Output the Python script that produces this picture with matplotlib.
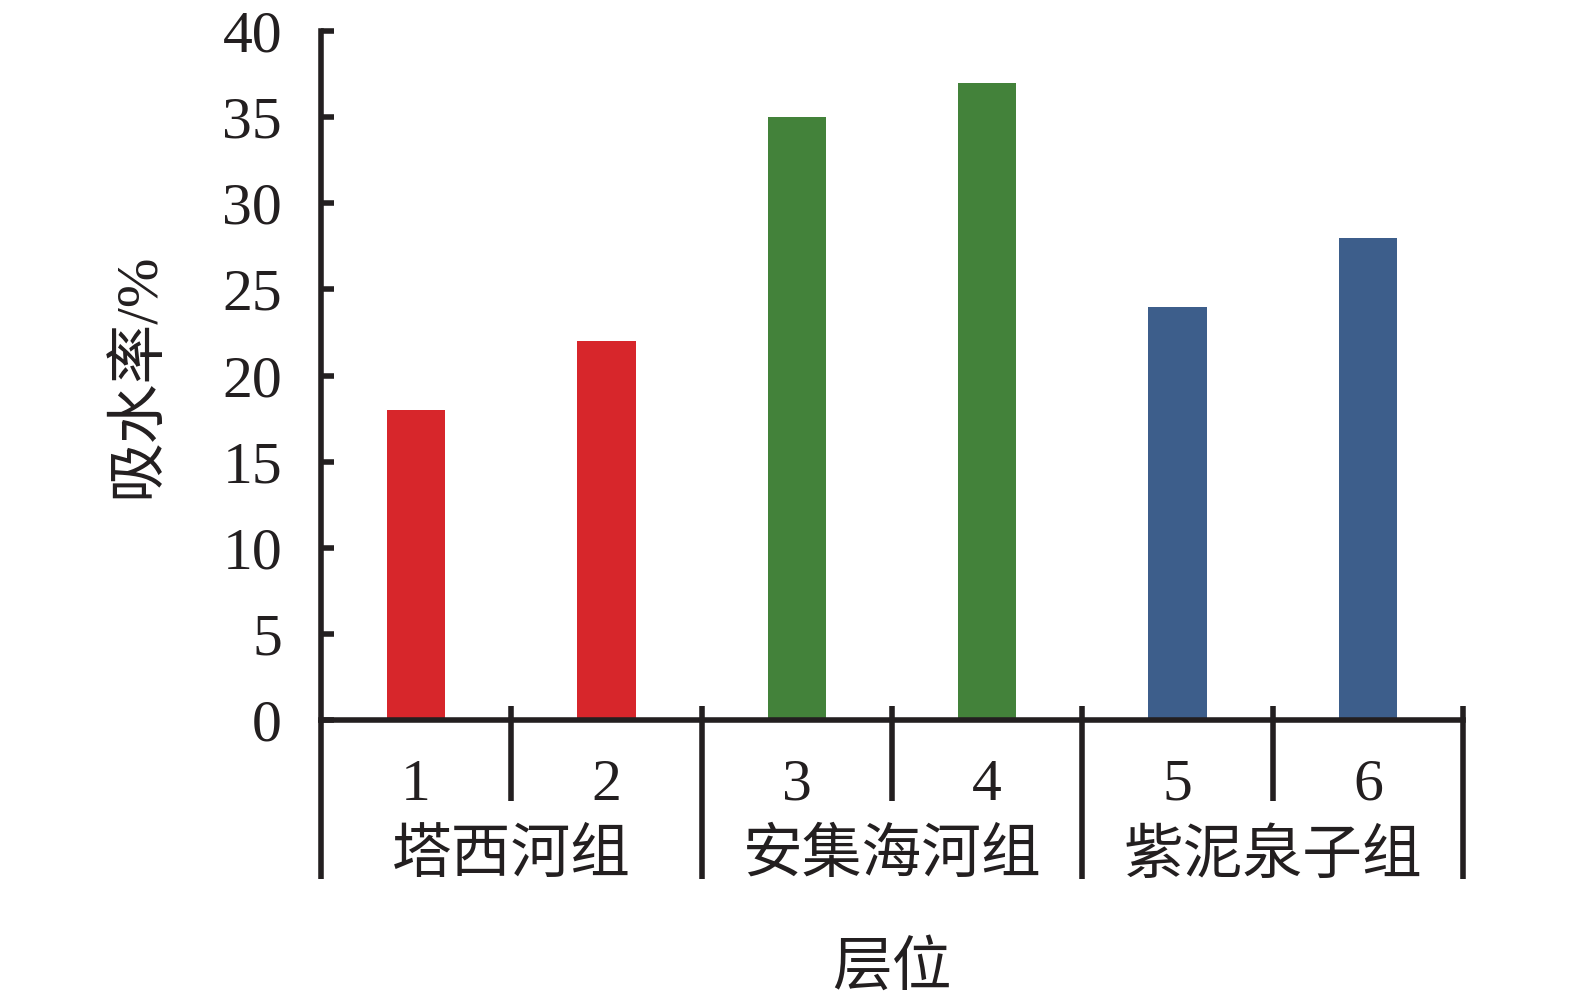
import numpy as np
import matplotlib as mpl

mpl.use('Agg')

import matplotlib.pyplot as plt

# data
layer_labels = ['1', '2', '3', '4', '5', '6']
absorption = [18, 22, 35, 37, 24, 28]
group_names = ['塔西河组', '安集海河组', '紫泥泉子组']
group_sizes = [2, 2, 2]
group_colors = ['#D7262B', '#43823A', '#3D5E8B']

plt.rcParams['font.family'] = ['Liberation Serif', 'Noto Sans CJK SC']
plt.rcParams['font.size'] = 43

fs = 43
ink = '#231F20'
lw = 4.0

fig = plt.figure(figsize=(15.75, 10.02), dpi=100)
ax = fig.add_axes([0.2038, 0.2814, 0.7251, 0.6876])

# one colour per bar, taken from its group
bar_colors = []
for name, n, c in zip(group_names, group_sizes, group_colors):
    bar_colors += [c] * n

x = np.arange(len(absorption)) + 0.5
ax.bar(x, absorption, width=0.307, color=bar_colors)

ax.set_xlim(0, len(absorption))
ax.set_ylim(0, 40)
ax.set_yticks(np.arange(0, 41, 5))
ax.set_xticks([])

for side in ['top', 'right']:
    ax.spines[side].set_visible(False)
for side in ['left', 'bottom']:
    ax.spines[side].set_linewidth(lw)
    ax.spines[side].set_color(ink)
    ax.spines[side].set_capstyle('projecting')
ax.tick_params(axis='y', direction='in', length=9.5, width=lw,
               pad=28, colors=ink, labelsize=fs)

# bar numbers under the axis
for xi, lab in zip(x, layer_labels):
    ax.text(xi, -4.64, lab, ha='center', va='baseline', fontsize=fs,
            color=ink, clip_on=False)

# separators: long ones between groups, short ones inside a group
edges = np.concatenate([[0], np.cumsum(group_sizes)])
for i, e in enumerate(edges):
    top = 0.81 if i > 0 else 0
    ax.plot([e, e], [top, -9.23], color=ink, lw=lw,
            clip_on=False, solid_capstyle='butt')
for k in range(len(absorption)):
    if k not in edges:
        ax.plot([k, k], [0.81, -4.68], color=ink, lw=lw,
                clip_on=False, solid_capstyle='butt')

# group names
for i, name in enumerate(group_names):
    mid = (edges[i] + edges[i + 1]) / 2.0
    ax.text(mid, -8.0, name, ha='center', va='center', fontsize=fs,
            color=ink, clip_on=False)

ax.text(3, -14.5, '层位', ha='center', va='center', fontsize=fs,
        color=ink, clip_on=False)
ax.text(-0.160, 0.5, '吸水率/%', transform=ax.transAxes, rotation=90,
        ha='center', va='center', fontsize=fs, color=ink)

plt.savefig('out.png', dpi=100)
plt.close()
